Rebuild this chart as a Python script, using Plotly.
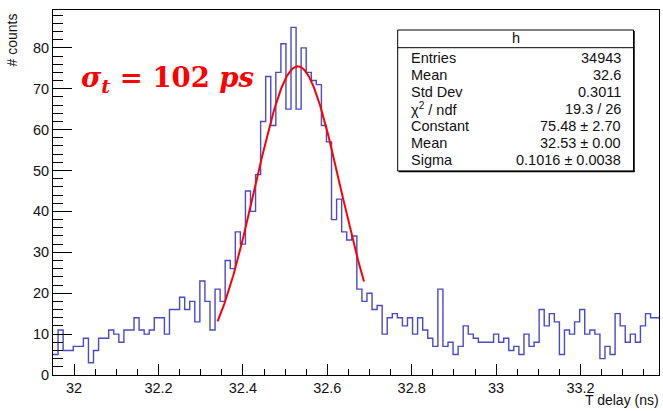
import numpy as np
import plotly.graph_objects as go

# ---------------- data ----------------
x_min = 31.95
bin_width = 0.012
counts = [5, 11, 6, 6, 7, 7, 9, 3, 6, 9, 9, 11, 10, 8, 11, 11, 14, 11, 10, 11,
          14, 14, 10, 16, 16, 19, 16, 18,
          13, 23, 18, 11, 21, 18, 28, 26, 35, 32, 45, 40, 49, 62, 73, 61, 74, 81,
          65, 85, 65, 80, 74, 72, 71, 61, 57, 38, 43, 35, 33, 34,
          21, 18, 20, 16, 17, 10, 14, 15, 14, 12, 14, 10, 14, 11, 9, 7, 21, 7, 8, 5,
          7, 12, 10, 9,
          8, 8, 8,
          10, 8, 9, 6, 7, 5, 10, 7, 8, 16, 12, 15, 13, 5, 11, 10, 13, 16, 10, 11, 10,
          4, 7, 5, 15, 12, 8, 10, 8, 12, 15, 14, 14]

fit_constant = 75.48
fit_mean = 32.53
fit_sigma = 0.1016
fit_range = [32.34, 32.687]

stats_labels = ["Entries", "Mean", "Std Dev", "\u03c7<sup>2</sup> / ndf", "Constant", "Mean", "Sigma"]
stats_values = ["34943", "32.6", "0.3011", "19.3 / 26", "75.48 \u00b1 2.70", "32.53 \u00b1 0.00", "0.1016 \u00b1 0.0038"]

x_ticks = [32, 32.2, 32.4, 32.6, 32.8, 33, 33.2]
x_tick_text = ["32", "32.2", "32.4", "32.6", "32.8", "33", "33.2"]

# ---------------- figure ----------------
W, H = 663, 411
ML, MR, MT, MB = 53, 4, 10, 36
L, R, T, B = ML, W - MR, MT, H - MB


def px(xp):
    return (xp - L) / (R - L)


def py(yp):
    return (B - yp) / (B - T)


n = len(counts)
edges = x_min + bin_width * np.arange(n + 1)
xs = list(edges)
ys = list(counts) + [counts[-1]]

fig = go.Figure()
fig.add_trace(go.Scatter(x=xs, y=ys, mode="lines", line=dict(shape="hv", color="#4a4ac6", width=1.4),
                         hoverinfo="skip", showlegend=False))

xf = np.linspace(fit_range[0], fit_range[1], 200)
yf = fit_constant * np.exp(-0.5 * ((xf - fit_mean) / fit_sigma) ** 2)
fig.add_trace(go.Scatter(x=xf, y=yf, mode="lines", line=dict(color="#ff0000", width=2),
                         hoverinfo="skip", showlegend=False))

axis_font = dict(family="Liberation Sans, Arial, sans-serif", size=14.5, color="#111111")

fig.update_layout(
    width=W, height=H, autosize=False,
    margin=dict(l=ML, r=MR, t=MT, b=MB, pad=0),
    paper_bgcolor="white", plot_bgcolor="white",
    showlegend=False,
    xaxis=dict(range=[x_min, 33.386], tickvals=x_ticks, ticktext=x_tick_text,
               ticks="inside", ticklen=11, tickwidth=1, tickcolor="black",
               minor=dict(dtick=0.05, tick0=32, ticks="inside", ticklen=6, tickcolor="black", showgrid=False),
               showgrid=False, zeroline=False, showline=True, linecolor="black", linewidth=1,
               mirror=True, tickfont=axis_font),
    yaxis=dict(range=[0, 89.25], dtick=10, tick0=0,
               ticks="inside", ticklen=19, tickwidth=1, tickcolor="black",
               minor=dict(dtick=2, tick0=0, ticks="inside", ticklen=10, tickcolor="black", showgrid=False),
               showgrid=False, zeroline=False, showline=True, linecolor="black", linewidth=1,
               mirror=True, tickfont=axis_font),
)

annotations = []
# axis titles
annotations.append(dict(text="# counts", xref="paper", yref="paper", x=px(12), y=py(12),
                        xanchor="center", yanchor="top", textangle=-90, showarrow=False,
                        font=dict(family="Liberation Sans, Arial, sans-serif", size=14, color="#111111")))
annotations.append(dict(text="T delay (ns)", xref="paper", yref="paper", x=px(660), y=py(409),
                        xanchor="right", yanchor="bottom", showarrow=False, borderpad=0,
                        font=dict(family="Liberation Sans, Arial, sans-serif", size=14, color="#111111")))

# sigma label
annotations.append(dict(text="<b><i>\u03c3</i><sub><i>t</i></sub> = 102 <i>ps</i></b>",
                        xref="paper", yref="paper", x=px(79), y=py(79), xanchor="left", yanchor="middle",
                        showarrow=False,
                        font=dict(family="DejaVu Serif, Liberation Serif, serif", size=27.5, color="#ff0000")))

# stats box
bx0, bx1, by0, by1, bsep = 397.7, 633.5, 30, 171, 47.7
shapes = [
    dict(type="rect", xref="paper", yref="paper", x0=px(bx0), x1=px(bx1), y0=py(by1), y1=py(by0),
         line=dict(color="black", width=1), fillcolor="white", layer="above"),
    dict(type="line", xref="paper", yref="paper", x0=px(bx0), x1=px(bx1), y0=py(bsep), y1=py(bsep),
         line=dict(color="black", width=1), layer="above"),
    dict(type="line", xref="paper", yref="paper", x0=px(bx1 + 0.5), x1=px(bx1 + 0.5), y0=py(by1 + 1), y1=py(by0 + 1),
         line=dict(color="black", width=1.5), layer="above"),
    dict(type="line", xref="paper", yref="paper", x0=px(bx0 + 1), x1=px(bx1 + 1), y0=py(by1 + 0.5), y1=py(by1 + 0.5),
         line=dict(color="black", width=1.5), layer="above"),
]
stat_font = dict(family="Liberation Sans, Arial, sans-serif", size=14.5, color="#111111")
annotations.append(dict(text="h", xref="paper", yref="paper", x=px((bx0 + bx1) / 2), y=py(38.5),
                        xanchor="center", yanchor="middle", showarrow=False, font=stat_font))
row_y0, row_dy = 58.3, 16.95
for i, (lab, val) in enumerate(zip(stats_labels, stats_values)):
    yy = py(row_y0 + i * row_dy)
    annotations.append(dict(text=lab, xref="paper", yref="paper", x=px(408.5), y=yy,
                            xanchor="left", yanchor="middle", showarrow=False, font=stat_font))
    annotations.append(dict(text=val, xref="paper", yref="paper", x=px(622.5), y=yy,
                            xanchor="right", yanchor="middle", showarrow=False, font=stat_font))

fig.update_layout(annotations=annotations, shapes=shapes)
fig.write_html("out.html", config={"displayModeBar": False},
               post_script="document.body.style.margin='0';document.body.style.padding='0';")
